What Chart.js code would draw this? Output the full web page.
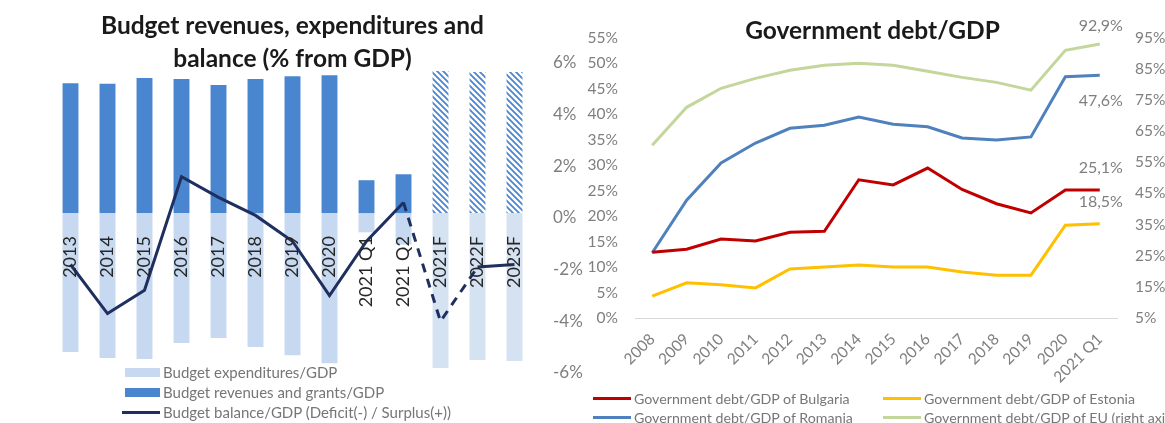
<!DOCTYPE html>
<html>
<head>
<meta charset="utf-8">
<script src="https://cdn.jsdelivr.net/npm/chart.js@4.4.1/dist/chart.umd.min.js"></script>
<style>
  body { margin: 0; background: #fff; }
  #page { position: relative; width: 1165px; height: 423px; overflow: hidden; font-family: Lato, sans-serif; }
  #budget-box { position: absolute; left: 0; top: 0; width: 590px; height: 423px; }
  #debt-box { position: absolute; left: 580px; top: 0; width: 585px; height: 423px; }
  .legend { position: absolute; color: #767676; white-space: nowrap; }
  .legend .item { position: absolute; display: flex; align-items: center; height: 20px; }
  .legend .swatch { display: inline-block; flex: none; margin-right: 3px; }
</style>
</head>
<body>
<div id="page">
  <div id="budget-box"><canvas id="budget-chart"></canvas></div>
  <div id="debt-box"><canvas id="debt-chart"></canvas></div>
  <div id="budget-legend" class="legend" style="left:122px; top:362px; font-size:15px;"></div>
  <div id="debt-legend" class="legend" style="left:593px; top:388px; font-size:14.2px;"></div>
</div>
<script>
// --- budget (% of GDP) ---
const budgetLabels = ['2013', '2014', '2015', '2016', '2017', '2018', '2019', '2020', '2021 Q1', '2021 Q2', '2021F', '2022F', '2023F'];
const revenues = [37.1, 37.0, 38.6, 38.3, 36.6, 38.3, 39.1, 39.4, 9.4, 11.1, 40.6, 40.3, 40.3];
const expenditures = [-39.7, -41.4, -41.7, -37.1, -35.7, -38.3, -40.6, -42.9, -5.5, -9.0, -44.3, -42.0, -42.3];
const balance = [-1.8, -3.7, -2.8, 1.6, 0.8, 0.1, -0.9, -3.0, -0.9, 0.6, -4.0, -1.9, -1.8];
const firstForecast = 10;

// --- government debt (% of GDP) ---
const debtLabels = ['2008', '2009', '2010', '2011', '2012', '2013', '2014', '2015', '2016', '2017', '2018', '2019', '2020', '2021 Q1'];
const debtBulgaria = [12.9, 13.5, 15.5, 15.1, 16.8, 17.0, 27.1, 26.1, 29.4, 25.2, 22.4, 20.6, 25.1, 25.1];
const debtEstonia = [4.3, 6.9, 6.5, 5.9, 9.6, 10.0, 10.4, 10.0, 10.0, 9.0, 8.4, 8.4, 18.2, 18.5];
const debtRomania = [12.8, 23.1, 30.4, 34.3, 37.2, 37.8, 39.4, 38.0, 37.5, 35.3, 34.9, 35.5, 47.3, 47.6];
const debtEU = [60.4, 72.6, 78.7, 81.9, 84.5, 86.1, 86.7, 86.1, 84.2, 82.2, 80.6, 78.1, 90.9, 92.9];

Chart.defaults.font.family = 'Lato, sans-serif';
Chart.defaults.animation = false;

const BLUE = '#4a86cf';
const LIGHT = '#c6d9f0';
const LIGHT_F = '#d5e2f2';
const NAVY = '#1f3060';
const GREY = '#7f7f7f';

// diagonal stripes for the forecast revenue bars
function stripes(color) {
    const c = document.createElement('canvas');
    c.width = 6; c.height = 6;
    const g = c.getContext('2d');
    g.strokeStyle = color;
    g.lineWidth = 1.8;
    g.beginPath();
    g.moveTo(-1, -1); g.lineTo(7, 7);
    g.moveTo(-1, 5); g.lineTo(1, 7);
    g.moveTo(5, -1); g.lineTo(7, 1);
    g.stroke();
    return g.createPattern(c, 'repeat');
}
const hatch = stripes(BLUE);

const pct = v => v + '%';

const budgetChart = new Chart(document.getElementById('budget-chart'), {
    type: 'bar',
    data: {
        labels: budgetLabels,
        datasets: [
            {
                label: 'Budget expenditures/GDP',
                data: expenditures,
                backgroundColor: expenditures.map((v, i) => i >= firstForecast ? LIGHT_F : LIGHT),
                swatch: LIGHT,
                yAxisID: 'y',
                order: 2
            },
            {
                label: 'Budget revenues and grants/GDP',
                data: revenues,
                backgroundColor: revenues.map((v, i) => i >= firstForecast ? hatch : BLUE),
                swatch: BLUE,
                yAxisID: 'y',
                order: 1
            },
            {
                type: 'line',
                label: 'Budget balance/GDP (Deficit(-) / Surplus(+))',
                data: balance,
                borderColor: NAVY,
                borderWidth: 3,
                pointRadius: 0,
                swatch: NAVY,
                yAxisID: 'y1',
                order: 0,
                segment: {
                    borderDash: c => (c.p0DataIndex === 9 || c.p0DataIndex === 10) ? [9, 7] : undefined
                }
            }
        ]
    },
    options: {
        responsive: true,
        maintainAspectRatio: false,
        layout: { padding: { left: 52, top: 0, right: 0, bottom: 50 } },
        datasets: { bar: { barPercentage: 0.43, categoryPercentage: 1 } },
        plugins: {
            legend: { display: false },
            tooltip: { enabled: false },
            title: {
                display: true,
                fullSize: false,
                text: ['Budget revenues, expenditures and', 'balance (% from GDP)'],
                color: '#1a1a1a',
                font: { size: 24.5, weight: 'bold', lineHeight: 33 / 24.5 },
                padding: { top: 9.5, bottom: -12.5 }
            }
        },
        scales: {
            x: {
                stacked: true,
                position: { y: 0 },
                grid: { display: false },
                border: { display: false },
                ticks: {
                    z: 1,
                    autoSkip: false,
                    minRotation: 90,
                    maxRotation: 90,
                    padding: 15,
                    color: '#262626',
                    font: { size: 18 }
                }
            },
            y: {
                stacked: true,
                display: false,
                min: -45.7,
                max: 42.9
            },
            y1: {
                position: 'right',
                min: -6,
                max: 6,
                grid: { display: false, drawTicks: false },
                border: { display: false },
                ticks: { stepSize: 2, padding: 20, color: GREY, font: { size: 17 }, callback: pct },
                afterFit: s => { s.width = 57; }
            }
        }
    }
});

// value labels next to the last point of each debt series
const endLabels = {
    id: 'endLabels',
    afterDatasetsDraw(chart) {
        const ctx = chart.ctx;
        ctx.save();
        ctx.font = '16px Lato, sans-serif';
        ctx.fillStyle = GREY;
        ctx.textAlign = 'center';
        ctx.textBaseline = 'middle';
        chart.data.datasets.forEach((ds, i) => {
            const pts = chart.getDatasetMeta(i).data;
            const p = pts[pts.length - 1];
            const v = ds.data[ds.data.length - 1];
            ctx.fillText(v.toFixed(1).replace('.', ',') + '%', p.x + 1, p.y + ds.labelShift);
        });
        ctx.restore();
    }
};

const debtLine = (label, data, color, axis, shift) => ({
    label, data, borderColor: color, swatch: color, borderWidth: 3,
    pointRadius: 0, yAxisID: axis, labelShift: shift
});

const debtChart = new Chart(document.getElementById('debt-chart'), {
    type: 'line',
    data: {
        labels: debtLabels,
        datasets: [
            debtLine('Government debt/GDP of Bulgaria', debtBulgaria, '#c00000', 'y', -22),
            debtLine('Government debt/GDP of Estonia', debtEstonia, '#ffc000', 'y', -22),
            debtLine('Government debt/GDP of Romania', debtRomania, '#4f81bd', 'y', 26),
            debtLine('Government debt/GDP of EU (right axis)', debtEU, '#c3d69b', 'y1', -18)
        ]
    },
    plugins: [endLabels],
    options: {
        responsive: true,
        maintainAspectRatio: false,
        layout: { padding: 0 },
        plugins: {
            legend: { display: false },
            tooltip: { enabled: false },
            title: {
                display: true,
                text: 'Government debt/GDP',
                color: '#1a1a1a',
                font: { size: 24.5, weight: 'bold', lineHeight: 1.2 },
                padding: { top: 16.3, bottom: -8.2 }
            }
        },
        scales: {
            x: {
                offset: true,
                grid: { display: false },
                border: { display: true, color: '#d9d9d9', width: 1 },
                ticks: { autoSkip: false, minRotation: 45, maxRotation: 45, padding: 4, color: GREY, font: { size: 15.5 } },
                afterFit: s => { s.height = 105; }
            },
            y: {
                min: 0,
                max: 55,
                grid: { display: false, drawTicks: false },
                border: { display: false },
                ticks: { stepSize: 5, padding: 17, color: GREY, font: { size: 15.5 }, callback: pct },
                afterFit: s => { s.width = 55; }
            },
            y1: {
                position: 'right',
                min: 5,
                max: 95,
                grid: { display: false, drawTicks: false },
                border: { display: false },
                ticks: { stepSize: 10, padding: 18, color: GREY, font: { size: 15.5 }, callback: pct },
                afterFit: s => { s.width = 48; }
            }
        }
    }
});

// HTML legends built from the chart datasets
function fillLegend(el, chart, place) {
    chart.data.datasets.forEach((ds, i) => {
        const item = document.createElement('div');
        item.className = 'item';
        const pos = place(i);
        item.style.left = pos.x + 'px';
        item.style.top = pos.y + 'px';
        const sw = document.createElement('span');
        sw.className = 'swatch';
        const isLine = (ds.type || chart.config.type) === 'line';
        sw.style.width = isLine ? '38px' : '35px';
        sw.style.height = isLine ? '3px' : '9px';
        sw.style.marginLeft = isLine ? '0' : '3px';
        sw.style.background = ds.swatch;
        item.appendChild(sw);
        item.appendChild(document.createTextNode(ds.label));
        el.appendChild(item);
    });
}

fillLegend(document.getElementById('budget-legend'), budgetChart, i => ({ x: 0, y: i * 20 }));
fillLegend(document.getElementById('debt-legend'), debtChart, i => ({ x: (i % 2) * 290, y: Math.floor(i / 2) * 19 }));
</script>
</body>
</html>
